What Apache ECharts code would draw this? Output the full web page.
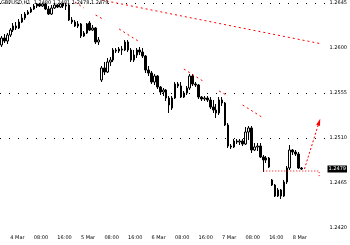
<!DOCTYPE html>
<html><head><meta charset="utf-8">
<script src="https://cdn.jsdelivr.net/npm/echarts@6/dist/echarts.min.js"></script>
<style>html,body{margin:0;padding:0;background:#fff}#c{width:350px;height:245px}</style>
</head><body><div id="c"></div>
<script>
const opens = [
1.2603,1.2610,1.2607,1.2613,1.2618,1.2622,1.2620,1.2626,1.2630,1.2634,
1.2636,1.2639,1.2642,1.2644,1.2642,1.2644,1.2639,1.2634,1.2640,1.2643,
1.2641,1.2644,1.2642,1.2643,1.2628,1.2626,1.2622,1.2624,1.2612,1.2615,
1.2625,1.2618,1.2620,1.2606,1.2568,1.2580,1.2576,1.2586,1.2588,1.2598,
1.2597,1.2599,1.2598,1.2606,1.2598,1.2588,1.2593,1.2598,1.2596,1.2592,
1.2578,1.2575,1.2566,1.2572,1.2561,1.2556,1.2558,1.2550,1.2540,1.2550,
1.2564,1.2562,1.2551,1.2555,1.2560,1.2572,1.2564,1.2563,1.2551,1.2549,
1.2550,1.2548,1.2541,1.2538,1.2535,1.2548,1.2545,1.2523,1.2502,1.2501,
1.2507,1.2506,1.2507,1.2504,1.2516,1.2520,1.2498,1.2501,1.2502,1.2491,
1.2488,1.2490,1.2468,1.2463,1.2452,1.2458,1.2452,1.2466,1.2480,1.2498,
1.2496,1.2494,1.2480];
const closes = [
1.2610,1.2607,1.2613,1.2618,1.2622,1.2620,1.2626,1.2630,1.2634,1.2636,
1.2639,1.2642,1.2644,1.2642,1.2644,1.2639,1.2634,1.2640,1.2643,1.2641,
1.2644,1.2642,1.2643,1.2628,1.2626,1.2622,1.2624,1.2612,1.2615,1.2624,
1.2618,1.2620,1.2606,1.2608,1.2580,1.2576,1.2586,1.2588,1.2598,1.2597,
1.2599,1.2598,1.2606,1.2598,1.2588,1.2593,1.2598,1.2596,1.2592,1.2578,
1.2575,1.2566,1.2572,1.2561,1.2556,1.2558,1.2550,1.2543,1.2550,1.2564,
1.2562,1.2551,1.2555,1.2560,1.2572,1.2564,1.2563,1.2551,1.2549,1.2550,
1.2548,1.2541,1.2538,1.2535,1.2548,1.2545,1.2523,1.2502,1.2501,1.2507,
1.2506,1.2507,1.2504,1.2516,1.2520,1.2498,1.2501,1.2502,1.2491,1.2488,
1.2490,1.2481,1.2463,1.2452,1.2458,1.2452,1.2466,1.2480,1.2498,1.2496,
1.2494,1.2480,1.2479];
const lows = [
1.2601,1.2605,1.2604,1.2611,1.2616,1.2618,1.2619,1.2625,1.2628,1.2633,
1.2635,1.2638,1.2640,1.2641,1.2641,1.2638,1.2633,1.2633,1.2639,1.2640,
1.2640,1.2640,1.2638,1.2627,1.2624,1.2621,1.2620,1.2610,1.2611,1.2614,
1.2617,1.2617,1.2604,1.2603,1.2566,1.2573,1.2575,1.2582,1.2586,1.2595,
1.2595,1.2593,1.2597,1.2596,1.2586,1.2586,1.2590,1.2593,1.2590,1.2575,
1.2572,1.2564,1.2563,1.2559,1.2553,1.2552,1.2547,1.2535,1.2538,1.2549,
1.2560,1.2550,1.2550,1.2553,1.2558,1.2562,1.2561,1.2549,1.2547,1.2547,
1.2546,1.2539,1.2535,1.2530,1.2533,1.2542,1.2522,1.2500,1.2499,1.2500,
1.2504,1.2503,1.2502,1.2503,1.2508,1.2495,1.2497,1.2497,1.2490,1.2476,
1.2485,1.2480,1.2462,1.2451,1.2451,1.2449,1.2451,1.2464,1.2478,1.2493,
1.2492,1.2479,1.2478];
const highs = [
1.2612,1.2614,1.2615,1.2620,1.2625,1.2626,1.2629,1.2634,1.2636,1.2638,
1.2641,1.2644,1.2645,1.2645,1.2645,1.2645,1.2642,1.2643,1.2645,1.2644,
1.2645,1.2645,1.2645,1.2644,1.2631,1.2628,1.2627,1.2625,1.2617,1.2625,
1.2627,1.2623,1.2621,1.2611,1.2582,1.2586,1.2590,1.2591,1.2600,1.2600,
1.2601,1.2602,1.2608,1.2608,1.2600,1.2598,1.2600,1.2601,1.2600,1.2593,
1.2582,1.2577,1.2574,1.2573,1.2562,1.2560,1.2559,1.2552,1.2552,1.2566,
1.2566,1.2566,1.2557,1.2562,1.2574,1.2574,1.2566,1.2564,1.2552,1.2552,
1.2552,1.2551,1.2548,1.2544,1.2551,1.2551,1.2546,1.2525,1.2504,1.2509,
1.2509,1.2509,1.2509,1.2521,1.2522,1.2522,1.2505,1.2505,1.2505,1.2493,
1.2492,1.2491,1.2469,1.2464,1.2460,1.2459,1.2468,1.2482,1.2503,1.2499,
1.2498,1.2496,1.2481];

const tickLabels = ['4 Mar','08:00','16:00','5 Mar','08:00','16:00','6 Mar','08:00','16:00','7 Mar','08:00','16:00','8 Mar'];
const firstLabelSlot = 3;
const labelEvery = 8;
const slotCount = 111;

// red trend lines: [slot index, price]
const channelSegments = [
  [[25,1.2646],[28,1.2640]],
  [[32,1.2633],[35,1.2628]],
  [[40,1.2619],[47,1.2606]],
  [[62,1.2579],[69,1.2566]],
  [[74,1.2557],[77,1.2552]],
  [[82,1.2543],[89,1.2530]]
];
const resistanceLine = [[34,1.2648],[109,1.2604]];
const supportLine = [[89,1.2477],[108,1.2477],[108,1.2470]];
const projectionLine = [[103,1.2479],[108,1.2526]];

const gridPrices = [1.2645, 1.2555, 1.2510];
const lastPrice = 1.2479;
const chartTitle = 'GBPUSD,H1  1.2480 1.2481 1.2478 1.2479';

const categories = [];
for (let i = 0; i < slotCount; i++) categories.push('s' + i);
const candleData = opens.map((o, i) => [o, closes[i], lows[i], highs[i]]);

const redStyle = {color:'#ff0000', width:1, type:[2,3]};
const redSeries = channelSegments.map(seg => ({
  type:'line', xAxisIndex:1, data:seg, showSymbol:false, symbol:'none',
  lineStyle:redStyle, clip:false, silent:true, z:5
}));
redSeries.push({type:'line', xAxisIndex:1, data:resistanceLine, symbol:'none', lineStyle:redStyle, clip:false, silent:true, z:5});
redSeries.push({type:'line', xAxisIndex:1, data:supportLine, symbol:'none', lineStyle:{color:'#ff0000', width:1, type:[1,2]}, silent:true, z:5});
redSeries.push({type:'line', xAxisIndex:1,
  data:[projectionLine[0], {value:projectionLine[1], symbol:'triangle', symbolSize:[4,7], symbolRotate:-18, itemStyle:{color:'#ff0000'}}],
  symbol:'none', showSymbol:true, lineStyle:{color:'#ff0000', width:1, type:[2,2]}, silent:true, z:5});

// grid lines and last-price box on a helper series
const helperSeries = {
  type:'line', xAxisIndex:1, data:[], silent:true, z:1,
  markLine:{silent:true, symbol:'none', animation:false, precision:4,
    data:[
      ...gridPrices.map(p=>({yAxis:p, lineStyle:{color:'#000', width:1, type:[1,8]}, label:{show:false}})),
      {yAxis:lastPrice, lineStyle:{color:'rgba(0,0,0,0)', width:1}, label:{show:true, position:'end', distance:1,
        formatter:lastPrice.toFixed(4), backgroundColor:'#000', color:'#fff', fontSize:5, padding:[1,1], opacity:1}}
    ]}
};

const chart = echarts.init(document.getElementById('c'), null, {renderer:'canvas'});
chart.setOption({
  animation:false,
  backgroundColor:'#fff',
  textStyle:{fontFamily:'DejaVu Sans'},
  grid:{left:0, right:17, top:3, bottom:17, containLabel:false},
  graphic:[{type:'text', left:1, top:0, z:10, style:{text:chartTitle, fontSize:5, fill:'#000', fontFamily:'DejaVu Sans'}}],
  xAxis:[
    {type:'category', data:categories, boundaryGap:true,
     axisLine:{show:false}, axisTick:{show:false}, splitLine:{show:false},
     axisLabel:{interval:(idx)=> idx>=firstLabelSlot && (idx-firstLabelSlot)%labelEvery===0,
       formatter:(v, idx)=> tickLabels[(idx-firstLabelSlot)/labelEvery] || '',
       fontSize:5, color:'#000', align:'left', margin:7, hideOverlap:false}},
    {type:'value', min:-0.5, max:slotCount-0.5, show:false}
  ],
  yAxis:{type:'value', position:'right', min:1.2420, max:1.2645, interval:0.0045,
    axisLine:{show:false}, axisTick:{show:false}, splitLine:{show:false},
    axisLabel:{fontSize:5, color:'#000', margin:3, formatter:(v)=>v.toFixed(4)}},
  series:[
    helperSeries,
    {type:'candlestick', data:candleData, barWidth:2, z:3,
     itemStyle:{color:'#ffffff', color0:'#000000', borderColor:'#000000', borderColor0:'#000000', borderWidth:1}},
    ...redSeries
  ]
});
</script></body></html>
